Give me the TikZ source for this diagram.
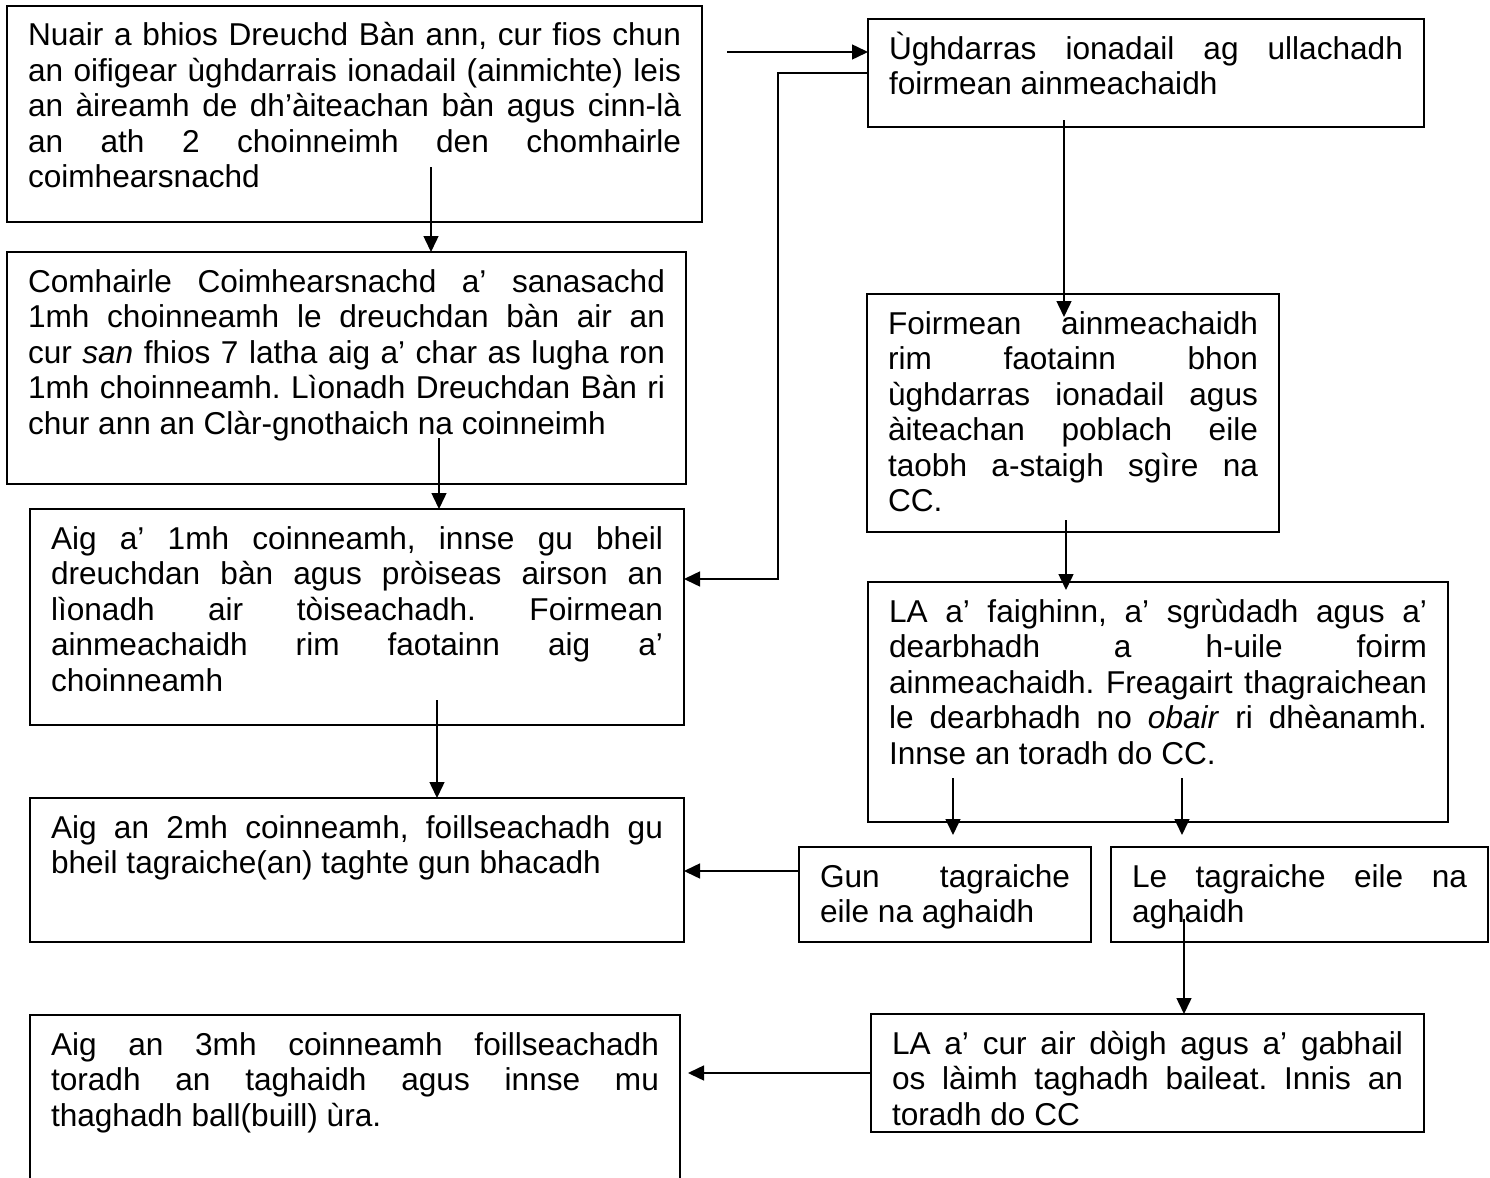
\documentclass[tikz,border=0pt]{standalone}
\usepackage{fontspec}
\setmainfont{Liberation Sans}
\usetikzlibrary{arrows.meta,positioning}
\frenchspacing

% one pixel of the flow chart
\newlength{\pxu}
\setlength{\pxu}{0.5pt}
% justified text block of fixed size (width, height in pixels)
\newcommand{\steptext}[3]{\parbox[t][#2\pxu][t]{#1\pxu}{\hyphenpenalty=10000\tolerance=9999\hbadness=10000\rule{0pt}{14pt}#3}}

\begin{document}
\begin{tikzpicture}[
    x=0.5pt, y=-0.5pt,
    stepbox/.style={rectangle, draw, line width=0.9pt, anchor=north west, inner xsep=10.5pt, inner ysep=6pt, outer sep=0pt,
                    font=\fontsize{15.8}{17.75}\selectfont},
    flow/.style={-{Triangle[length=8pt,width=7.5pt]}, line width=0.75pt}
]
\clip (0,0) rectangle (1490,1178);

% Left column - community council
\node[stepbox] (b1) at (7,6) {\steptext{653}{192}{Nuair a bhios Dreuchd Bàn ann, cur fios chun\linebreak an oifigear ùghdarrais ionadail (ainmichte) leis\linebreak an àireamh de dh’àiteachan bàn agus cinn-là\linebreak an ath 2 choinneimh den chomhairle\linebreak coimhearsnachd}};
\node[stepbox] (b2) at (7,252) {\steptext{637}{208}{Comhairle Coimhearsnachd a’ sanasachd\linebreak 1mh choinneamh le dreuchdan bàn air an\linebreak cur \textit{san} fhios 7 latha aig a’ char as lugha ron\linebreak 1mh choinneamh. Lìonadh Dreuchdan Bàn ri\linebreak chur ann an Clàr-gnothaich na coinneimh}};
\node[stepbox] (b3) at (30,509) {\steptext{612}{192}{Aig a’ 1mh coinneamh, innse gu bheil\linebreak dreuchdan bàn agus pròiseas airson an\linebreak lìonadh air tòiseachadh. Foirmean\linebreak ainmeachaidh rim faotainn aig a’\linebreak choinneamh}};
\node[stepbox] (b4) at (30,798) {\steptext{612}{120}{Aig an 2mh coinneamh, foillseachadh gu\linebreak bheil tagraiche(an) taghte gun bhacadh}};
\node[stepbox] (b5) at (30,1015) {\steptext{608}{176}{Aig an 3mh coinneamh foillseachadh\linebreak toradh an taghaidh agus innse mu\linebreak thaghadh ball(buill) ùra.}};

% Right column - local authority
\node[stepbox] (r1) at (868,19) {\steptext{514}{84}{Ùghdarras ionadail ag ullachadh\linebreak foirmean ainmeachaidh}};
\node[stepbox] (r2) at (867,294) {\steptext{370}{214}{Foirmean ainmeachaidh\linebreak rim faotainn bhon\linebreak ùghdarras ionadail agus\linebreak àiteachan poblach eile\linebreak taobh a-staigh sgìre na\linebreak CC.}};
\node[stepbox] (r3) at (868,582) {\steptext{538}{216}{LA a’ faighinn, a’ sgrùdadh agus a’\linebreak dearbhadh a h-uile foirm\linebreak ainmeachaidh. Freagairt thagraichean\linebreak le dearbhadh no \textit{obair} ri dhèanamh.\linebreak Innse an toradh do CC.}};
\node[stepbox] (gun) at (799,847) {\steptext{250}{71}{Gun tagraiche\linebreak eile na aghaidh}};
\node[stepbox] (le) at (1111,847) {\steptext{335}{71}{Le tagraiche eile na\linebreak aghaidh}};
\node[stepbox] (la) at (871,1014) {\steptext{511}{94}{LA a’ cur air dòigh agus a’ gabhail\linebreak os làimh taghadh baileat. Innis an\linebreak toradh do CC}};

% Arrows across
\coordinate (src) at (727,52);
\draw[flow] (src) -- (src -| r1.west);
\coordinate (bend) at (778,579);
\draw[flow] (r1.west) -| (bend) -- (bend -| b3.east);
\draw[flow] ([yshift=11.75pt]gun.west) -- ([yshift=11.75pt]gun.west -| b4.east);
\draw[flow] (la.west) -- ([xshift=4pt]la.west -| b5.east);

% Arrows down
\coordinate (s1) at (431,167);
\coordinate (s2) at (439,438);
\coordinate (s3) at (437,700);
\coordinate (s4) at (1064,120);
\coordinate (s5) at (1066,520);
\coordinate (s6) at (953,778);
\coordinate (s7) at (1182,778);
\coordinate (s8) at (1184,919);
\draw[flow] (s1) -- (s1 |- b2.north);
\draw[flow] (s2) -- (s2 |- b3.north);
\draw[flow] (s3) -- (s3 |- b4.north);
\draw[flow] (s4) -- ([yshift=-11.5pt]s4 |- r2.north);
\draw[flow] (s5) -- ([yshift=-4pt]s5 |- r3.north);
\draw[flow] (s6) -- ([yshift=6pt]s6 |- gun.north);
\draw[flow] (s7) -- ([yshift=6pt]s7 |- le.north);
\draw[flow] (s8) -- (s8 |- la.north);

\end{tikzpicture}
\end{document}
